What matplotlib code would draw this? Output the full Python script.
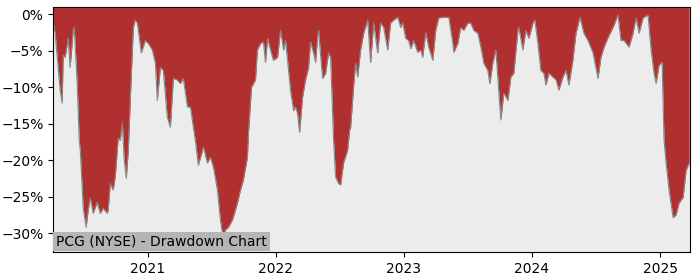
import numpy as np
import pandas as pd
import matplotlib
matplotlib.use('Agg')
import matplotlib.pyplot as plt
from matplotlib.ticker import PercentFormatter
import matplotlib.dates as mdates

# dates as decimal years, drawdown in percent
years = [
    2020.266, 2020.273, 2020.281, 2020.305, 2020.320, 2020.336, 2020.344, 2020.359, 2020.383, 2020.398,
    2020.422, 2020.430, 2020.453, 2020.469, 2020.477, 2020.500, 2020.523, 2020.539, 2020.555, 2020.578,
    2020.609, 2020.633, 2020.656, 2020.688, 2020.695, 2020.711, 2020.734, 2020.750, 2020.773, 2020.789,
    2020.805, 2020.820, 2020.836, 2020.852, 2020.867, 2020.891, 2020.906, 2020.922, 2020.930, 2020.953,
    2020.984, 2021.008, 2021.039, 2021.063, 2021.078, 2021.102, 2021.125, 2021.156, 2021.180, 2021.203,
    2021.234, 2021.258, 2021.281, 2021.313, 2021.336, 2021.359, 2021.375, 2021.398, 2021.438, 2021.469,
    2021.492, 2021.516, 2021.547, 2021.570, 2021.594, 2021.609, 2021.633, 2021.664, 2021.703, 2021.727,
    2021.750, 2021.781, 2021.789, 2021.813, 2021.828, 2021.844, 2021.859, 2021.883, 2021.906, 2021.922,
    2021.938, 2021.961, 2021.984, 2022.016, 2022.039, 2022.063, 2022.078, 2022.094, 2022.117, 2022.141,
    2022.156, 2022.172, 2022.188, 2022.211, 2022.234, 2022.258, 2022.273, 2022.297, 2022.313, 2022.328,
    2022.336, 2022.367, 2022.391, 2022.414, 2022.430, 2022.453, 2022.469, 2022.492, 2022.508, 2022.531,
    2022.563, 2022.578, 2022.586, 2022.609, 2022.625, 2022.641, 2022.664, 2022.688, 2022.719, 2022.742,
    2022.766, 2022.797, 2022.820, 2022.844, 2022.875, 2022.898, 2022.922, 2022.953, 2022.977, 2022.992,
    2023.016, 2023.039, 2023.055, 2023.078, 2023.109, 2023.133, 2023.148, 2023.172, 2023.195, 2023.227,
    2023.250, 2023.273, 2023.313, 2023.352, 2023.383, 2023.391, 2023.422, 2023.445, 2023.469, 2023.500,
    2023.523, 2023.547, 2023.578, 2023.602, 2023.625, 2023.656, 2023.672, 2023.695, 2023.719, 2023.734,
    2023.758, 2023.781, 2023.813, 2023.836, 2023.859, 2023.891, 2023.898, 2023.930, 2023.953, 2023.977,
    2024.008, 2024.023, 2024.047, 2024.070, 2024.094, 2024.109, 2024.133, 2024.164, 2024.188, 2024.211,
    2024.242, 2024.266, 2024.289, 2024.320, 2024.344, 2024.375, 2024.406, 2024.438, 2024.477, 2024.516,
    2024.539, 2024.563, 2024.594, 2024.633, 2024.672, 2024.695, 2024.719, 2024.758, 2024.789, 2024.813,
    2024.836, 2024.867, 2024.906, 2024.930, 2024.953, 2024.969, 2024.992, 2025.016, 2025.031, 2025.047,
    2025.070, 2025.102, 2025.125, 2025.148, 2025.180, 2025.203, 2025.227,
]
drawdown = [
    -1.1, -1.9, -2.6, -7.3, -10.4, -12.2, -5.6, -5.9, -3.3, -7.3,
    -2.2, -1.8, -9.5, -17.3, -18.6, -26.6, -29.2, -26.8, -25.2, -27.3,
    -25.8, -27.3, -26.6, -27.3, -26.8, -23.2, -24.1, -22.3, -17.0, -17.3,
    -14.9, -20.0, -22.5, -18.6, -11.8, -1.8, -0.8, -1.2, -2.2, -5.3,
    -3.6, -4.0, -4.9, -6.7, -11.8, -7.3, -7.7, -14.1, -15.5, -8.8,
    -9.0, -9.5, -8.8, -12.7, -12.7, -15.5, -17.3, -20.7, -18.2, -20.4,
    -19.6, -21.0, -24.1, -28.2, -31.0, -29.6, -29.2, -28.2, -25.9, -24.1,
    -22.7, -19.6, -16.3, -10.0, -9.5, -9.0, -4.9, -4.0, -3.8, -6.6,
    -3.3, -4.9, -6.3, -5.9, -2.2, -4.9, -3.6, -6.3, -10.4, -13.2,
    -12.7, -13.6, -16.2, -11.4, -9.0, -7.3, -3.8, -5.3, -6.6, -3.2,
    -2.2, -8.8, -8.1, -5.3, -5.9, -17.3, -22.3, -23.2, -23.4, -20.4,
    -18.6, -15.9, -15.5, -10.0, -6.7, -8.6, -4.9, -2.6, -0.8, -6.6,
    -1.2, -5.3, -1.2, -1.8, -4.9, -1.2, -0.8, -0.4, -1.8, -1.2,
    -3.3, -3.6, -4.7, -3.6, -5.2, -4.9, -5.9, -2.5, -4.5, -6.3,
    -2.2, -0.5, -0.4, -0.4, -4.0, -5.2, -4.0, -1.8, -2.2, -1.2,
    -1.2, -2.2, -2.6, -4.5, -6.7, -7.7, -9.5, -6.7, -4.9, -8.6,
    -14.5, -10.8, -11.8, -8.6, -8.1, -2.2, -1.8, -4.9, -2.2, -3.3,
    -1.2, -0.8, -4.0, -7.7, -8.1, -9.7, -8.1, -8.6, -9.0, -10.4,
    -8.6, -7.7, -9.7, -6.3, -2.6, -0.4, -2.6, -3.6, -5.3, -8.8,
    -5.9, -4.5, -3.2, -1.8, -0.1, -3.6, -3.6, -4.5, -2.6, -0.5,
    -2.6, -0.5, -0.1, -4.9, -8.1, -9.5, -7.0, -6.6, -17.3, -20.4,
    -24.1, -27.9, -27.5, -25.9, -25.1, -21.4, -20.4,
]
title = 'PCG (NYSE) - Drawdown Chart'

yr = np.array(years)
dates = pd.Timestamp('2020-01-01') + pd.to_timedelta((yr - 2020) * 365.25, unit='D')
dd = np.array(drawdown)

fig = plt.figure(figsize=(7, 2.8), dpi=100)
ax = fig.add_axes([0.076, 0.10, 0.910, 0.875])
ax.set_facecolor('#ececec')
ytop = 1.0
ax.fill_between(dates, dd, ytop, color='#b03030', linewidth=0)
ax.plot(dates, dd, color='#888888', linewidth=0.8)

ax.set_xlim(dates[0], dates[-1] + pd.Timedelta(days=3))
ax.set_ylim(-32.6, ytop)
ax.set_yticks([0, -5, -10, -15, -20, -25, -30])
ax.yaxis.set_major_formatter(PercentFormatter(decimals=0))
ax.xaxis.set_major_locator(mdates.YearLocator())
ax.xaxis.set_major_formatter(mdates.DateFormatter('%Y'))

ax.annotate(title, xy=(0, 0), xycoords='axes fraction', xytext=(2.2, 2.5),
            textcoords='offset points', ha='left', va='bottom', fontsize=10,
            bbox=dict(boxstyle='square,pad=0.2', fc='#b5b5b5', ec='none'))

fig.savefig('out.png', dpi=100)
